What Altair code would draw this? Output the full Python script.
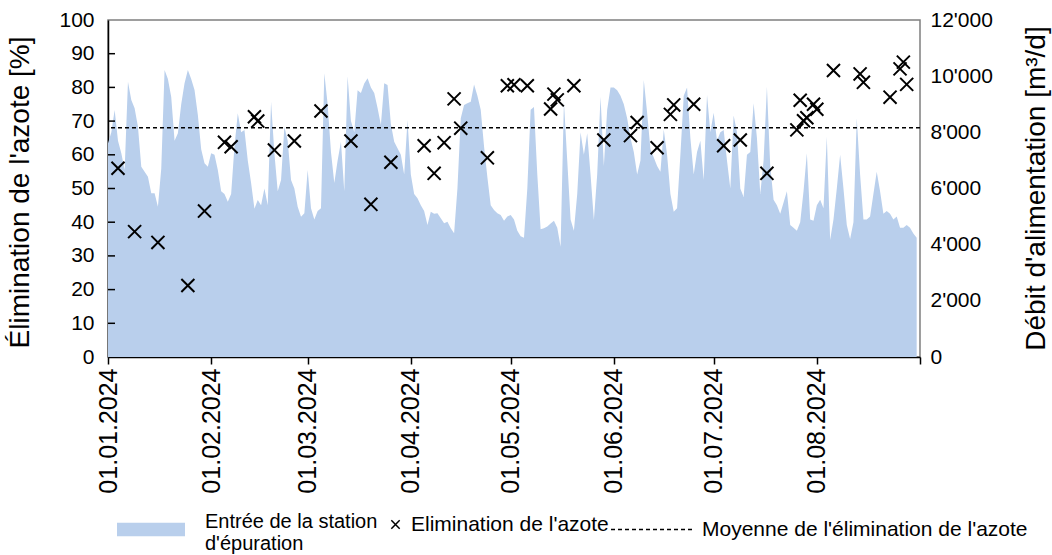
import altair as alt
import pandas as pd

# ---- inflow to the treatment plant (m3/d), one value per day ----
flow_jan = [7610, 8000, 8796, 7700, 7254, 6659, 9804, 9150, 8856, 8200, 6777, 6600, 6421, 5829, 5829, 5352,
            6700, 10220, 9900, 9260, 7700, 7966, 9000, 9746, 10220, 9900, 9508, 8618, 7400, 6900, 6777]
flow_feb = [7254, 7200, 6660, 5900, 5800, 5530, 5800, 7500, 8678, 8000, 8083, 7000, 6200, 5283, 5591, 5400,
            6000, 5400, 9091, 7254, 5900, 6300, 8201, 7700, 6300, 6000, 5352, 4996, 5117]
flow_mar = [6659, 5300, 4900, 5200, 5300, 10102, 9000, 7300, 6200, 7000, 7667, 5900, 10000, 8400, 8000, 9500,
            9400, 9743, 9924, 9600, 9400, 8867, 8262, 9746, 9686, 8300, 7667, 7432, 7200, 6500, 8440]
flow_apr = [6500, 5800, 5650, 5400, 5200, 4700, 5174, 5100, 5117, 4939, 4761, 4818, 4583, 4405, 6000, 8500,
            8974, 9034, 9091, 9700, 9300, 8800, 7500, 6400, 5400, 5235, 5117, 5057, 4850, 5000]
flow_may = [5057, 4900, 4500, 4300, 4250, 6000, 8800, 8900, 6500, 4550, 4583, 4650, 4750, 4850, 4600, 3928,
            9091, 7000, 4900, 4500, 5800, 8000, 7200, 7966, 6500, 4879, 6500, 9270, 6800, 8800, 9600]
flow_jun = [9600, 9500, 9300, 9000, 8500, 7800, 7300, 6500, 7000, 9864, 8700, 7400, 7100, 6800, 6600, 8100,
            7200, 5800, 5174, 5300, 7200, 9300, 9600, 7800, 6500, 7300, 7700, 6300, 9330, 8000]
flow_jul = [8700, 7700, 8000, 8083, 7000, 6000, 8600, 8000, 6000, 5700, 7200, 7300, 9034, 7800, 5800, 7000,
            9625, 6800, 5600, 5400, 5100, 5500, 5900, 4700, 4600, 4500, 4800, 5900, 7254, 4900, 4850]
flow_aug = [5400, 5600, 5300, 7845, 4166, 4900, 6000, 7200, 6000, 4700, 4200, 4800, 8500, 6500, 4900, 4900,
            5000, 5800, 6599, 5900, 5100, 5200, 5100, 4900, 5000, 4600, 4600, 4700, 4600, 4400, 4250]

flow = flow_jan + flow_feb + flow_mar + flow_apr + flow_may + flow_jun + flow_jul + flow_aug
flow_dates = pd.date_range("2024-01-01", periods=len(flow), freq="D").strftime("%Y-%m-%d").tolist()

# ---- nitrogen elimination measurements (%) ----
marker_dates = [
    "2024-01-04", "2024-01-09", "2024-01-16", "2024-01-25", "2024-01-30",
    "2024-02-05", "2024-02-07", "2024-02-14", "2024-02-15", "2024-02-20",
    "2024-02-26", "2024-03-05", "2024-03-14", "2024-03-20", "2024-03-26",
    "2024-04-05", "2024-04-08", "2024-04-11", "2024-04-14", "2024-04-16",
    "2024-04-24", "2024-04-30", "2024-05-02", "2024-05-06", "2024-05-13",
    "2024-05-14", "2024-05-15", "2024-05-20", "2024-05-29", "2024-06-06",
    "2024-06-08", "2024-06-14", "2024-06-18", "2024-06-19", "2024-06-25",
    "2024-07-04", "2024-07-09", "2024-07-17", "2024-07-26", "2024-07-27",
    "2024-07-28", "2024-07-29", "2024-07-31", "2024-08-01", "2024-08-06",
    "2024-08-14", "2024-08-15", "2024-08-23", "2024-08-26", "2024-08-27",
    "2024-08-28",
]
marker_pct = [
    56.0, 37.2, 34.0, 21.2, 43.3,
    63.7, 62.4, 71.3, 70.0, 61.4,
    64.1, 73.0, 64.1, 45.3, 57.8,
    62.7, 54.5, 63.6, 76.6, 67.9,
    59.1, 80.5, 80.8, 80.5, 73.6,
    78.0, 76.3, 80.5, 64.4, 65.7,
    69.6, 62.1, 72.0, 74.8, 75.0,
    62.7, 64.4, 54.5, 67.4, 76.2,
    70.1, 71.0, 75.0, 73.5, 85.0,
    84.0, 81.5, 77.1, 85.5, 87.5,
    80.9,
]
mean_pct = [68]

pct_axis_values = [0, 10, 20, 30, 40, 50, 60, 70, 80, 90, 100]
pct_inner_ticks = [10, 20, 30, 40, 50, 60, 70, 80, 90]
flow_axis_values = [0, 2000, 4000, 6000, 8000, 10000, 12000]
month_ticks = [1, 2, 3, 4, 5, 6, 7, 8, 9]

label_area = "Entrée de la station d'épuration"
label_pts = "Elimination de l'azote"
label_mean = "Moyenne de l'élimination de l'azote"

area_df = pd.DataFrame({"date": flow_dates, "flow": flow, "series": label_area})
pts_df = pd.DataFrame({"date": marker_dates, "pct": marker_pct, "series": label_pts})
mean_df = pd.DataFrame({"pct": mean_pct, "series": label_mean})
tick_df = pd.DataFrame({"pct": pct_inner_ticks})

FONT = "Liberation Sans, Arial, sans-serif"
X_PATH = "M-1,-1L1,1M-1,1L1,-1"

x_scale = alt.Scale(domain=[alt.DateTime(year=2024, month=1, date=1, utc=True),
                            alt.DateTime(year=2024, month=9, date=1, utc=True)], nice=False)
x_axis = alt.Axis(values=[alt.DateTime(year=2024, month=m, date=1, utc=True) for m in month_ticks],
                  labelExpr="utcmonth(datum.value) == 8 ? '' : utcFormat(datum.value, '%d.%m.%Y')",
                  labelAngle=-90, tickSize=7, tickColor="black", tickWidth=1.5,
                  domainColor="black", domainWidth=1.5, labelPadding=4, labelFontSize=25,
                  labelFont=FONT, labelColor="black", grid=False)
x_enc = alt.X("date:T", timeUnit="utcyearmonthdate", scale=x_scale, axis=x_axis, title=None)

pct_scale = alt.Scale(domain=[0, 100], nice=False)
pct_axis = alt.Axis(values=pct_axis_values, ticks=False, domainColor="black", domainWidth=1.5,
                    labelPadding=14, labelFontSize=21, labelFont=FONT, labelColor="black",
                    titleFont=FONT, titleFontSize=28, titleFontWeight="normal", titleColor="black",
                    titleAngle=270, titleX=-74, titleY=172, titleBaseline="bottom", titleAlign="center",
                    grid=False, orient="left")
flow_scale = alt.Scale(domain=[0, 12000], nice=False)
flow_axis = alt.Axis(values=flow_axis_values, ticks=False, domain=False, orient="right",
                     labelExpr="replace(format(datum.value, ','), ',', \"'\")",
                     labelPadding=10, labelFontSize=21, labelFont=FONT, labelColor="black",
                     titleFont=FONT, titleFontSize=28, titleFontWeight="normal", titleColor="black",
                     titleAngle=270, titleX=130, titleY=168, titleBaseline="bottom", titleAlign="center",
                     grid=False)

area = alt.Chart(area_df).mark_area(opacity=1, interpolate="linear").encode(
    x=x_enc,
    y=alt.Y("flow:Q", scale=flow_scale, axis=flow_axis, title="Débit d'alimentation [m³/d]"),
    color=alt.Color("series:N", scale=alt.Scale(range=["#b9cfec"]),
                    legend=alt.Legend(orient="none", legendX=9, legendY=468, title=None, padding=0,
                                      symbolType="M-1,0.02H1V0.42H-1Z", symbolSize=4624,
                                      symbolStrokeWidth=0, symbolOpacity=1,
                                      labelFont=FONT, labelFontSize=20, labelColor="black",
                                      labelOffset=20, labelLimit=400,
                                      labelExpr='["Entrée de la station", "d\'épuration"]')),
)

mean_rule = alt.Chart(mean_df).mark_rule(color="black", strokeWidth=1.5).encode(
    y=alt.Y("pct:Q", scale=pct_scale, axis=pct_axis, title="Élimination de l'azote [%]"),
    strokeDash=alt.StrokeDash("series:N", scale=alt.Scale(range=[[4, 3]]),
                              legend=alt.Legend(orient="none", legendX=502, legendY=467, title=None,
                                                padding=0, symbolType="stroke", symbolSize=6889,
                                                symbolStrokeColor="black", symbolStrokeWidth=1.5,
                                                labelFont=FONT, labelFontSize=21, labelColor="black",
                                                labelOffset=7, labelLimit=500)),
)

points = alt.Chart(pts_df).mark_point(filled=False, size=170, strokeWidth=2, color="black", opacity=1).encode(
    x=x_enc,
    y=alt.Y("pct:Q", scale=pct_scale, axis=pct_axis, title="Élimination de l'azote [%]"),
    shape=alt.Shape("series:N", scale=alt.Scale(range=[X_PATH]),
                    legend=alt.Legend(orient="none", legendX=277, legendY=494, title=None, padding=0,
                                      symbolSize=70, symbolStrokeColor="black", symbolStrokeWidth=1.5,
                                      symbolFillColor="transparent",
                                      labelFont=FONT, labelFontSize=21, labelColor="black",
                                      labelOffset=5, labelLimit=400)),
)

inner_ticks = alt.Chart(tick_df).mark_rule(color="black", strokeWidth=1.5).encode(
    y=alt.Y("pct:Q", scale=pct_scale, axis=pct_axis, title="Élimination de l'azote [%]"),
    x=alt.value(0),
    x2=alt.value(7),
)

left = alt.layer(mean_rule, points, inner_ticks)

chart = alt.layer(area, left).resolve_scale(y="independent").properties(
    width=812,
    height=337,
    padding={"left": 108, "top": 20, "right": 132, "bottom": 198},
    autosize=alt.AutoSizeParams(type="none"),
).configure_view(stroke="#7f7f7f", strokeWidth=1.5)

chart.save("out.html", embed_options={"renderer": "svg", "actions": False})
